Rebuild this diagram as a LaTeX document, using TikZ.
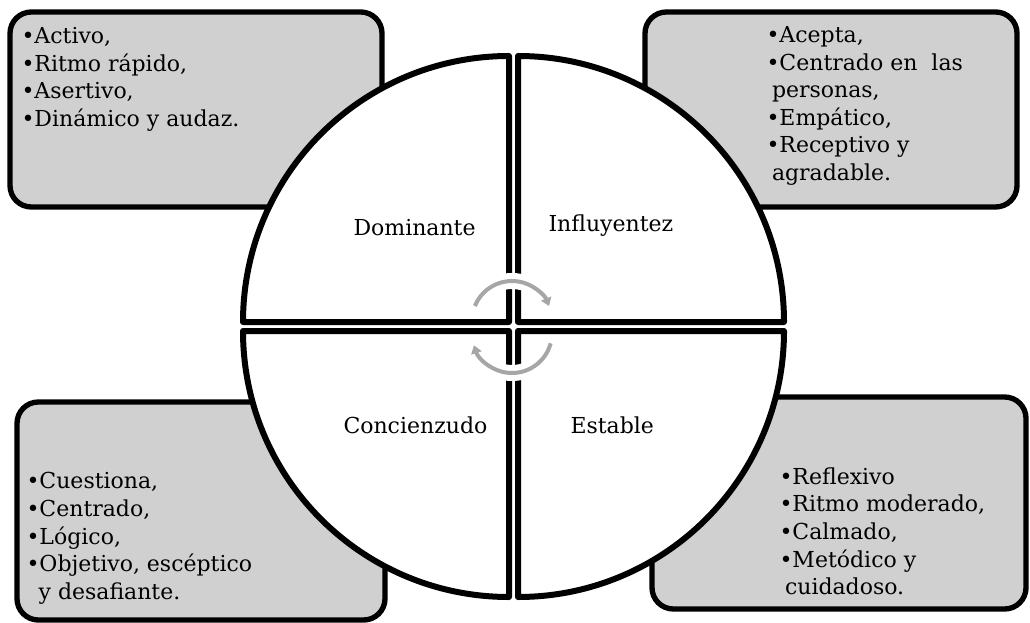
\documentclass[tikz,border=0pt]{standalone}
\usepackage{fontspec}
\setmainfont{DejaVu Serif}
\usetikzlibrary{arrows.meta}
\definecolor{boxgray}{RGB}{208,208,208}
\definecolor{arcgray}{RGB}{166,166,166}
\tikzset{every picture/.style={line width=0.75pt},
  traitbox/.style={draw=black, line width=4pt, fill=boxgray, rounded corners=16pt},
  quadrant/.style={draw=black, line width=4.5pt, fill=white, line join=round},
  traits/.style={anchor=north west, inner sep=0pt, align=left, font=\fontsize{16.5}{20.7}\selectfont},
  quadlabel/.style={anchor=base west, inner sep=0pt, font=\fontsize{16.5}{20.7}\selectfont},
  cyclehalo/.style={draw=white, line width=12pt},
  cyclearc/.style={draw=arcgray, line width=3pt},
}

\begin{document}
\begin{tikzpicture}[x=0.75pt,y=0.75pt,yscale=-1,xscale=1]
\useasboundingbox (0,0) rectangle (1030,623);

%Rounded Rect [top left]
\draw[traitbox] (10,12) rectangle (382,207);
%Rounded Rect [top right]
\draw[traitbox] (645,12) rectangle (1017,207);
%Rounded Rect [bottom left]
\draw[traitbox] (17,402) rectangle (385,620);
%Rounded Rect [bottom right]
\draw[traitbox] (652,397) rectangle (1026,609);

%Quadrants
\draw[quadrant] (509,322) -- (243,322) arc[start angle=180, end angle=270, radius=266] -- cycle;
\draw[quadrant] (518,322) -- (518,56) arc[start angle=270, end angle=360, radius=266] -- cycle;
\draw[quadrant] (518,331) -- (784,331) arc[start angle=0, end angle=90, radius=266] -- cycle;
\draw[quadrant] (509,331) -- (509,597) arc[start angle=90, end angle=180, radius=266] -- cycle;

%Cycle arrows
\coordinate (hubtop) at (512,321);
\coordinate (hubbot) at (512,333);
\draw[cyclehalo] ([shift={(202:40)}]hubtop) arc[start angle=202, end angle=336, radius=40];
\draw[cyclearc, -{Triangle[length=6pt,width=8pt]}] ([shift={(202:40)}]hubtop) arc[start angle=202, end angle=338, radius=40];
\draw[cyclehalo] ([shift={(15:40)}]hubbot) arc[start angle=15, end angle=160, radius=40];
\draw[cyclearc, -{Triangle[length=6pt,width=8pt]}] ([shift={(15:40)}]hubbot) arc[start angle=15, end angle=162, radius=40];

% Text Node
\node[quadlabel] (dom) at (353,236) {Dominante};
% Text Node
\node[quadlabel] (inf) at (548,232) {Influyentez};
% Text Node
\node[quadlabel] (con) at (343,433) {Concienzudo};
% Text Node
\node[quadlabel] (est) at (570,433) {Estable};

% Text Node
\node[traits] (domtraits) at (21,27) {•Activo,\\•Ritmo rápido,\\•Asertivo,\\•Dinámico y audaz.};
% Text Node
\node[traits] (inftraits) at (766,26) {•Acepta,\\•Centrado en\ \ las\\\hspace*{0.25em}personas,\\•Empático,\\•Receptivo y\\\hspace*{0.25em}agradable.};
% Text Node
\node[traits] (contraits) at (26,472) {•Cuestiona,\\•Centrado,\\•Lógico,\\•Objetivo, escéptico\\\hspace*{0.55em}y desafiante.};
% Text Node
\node[traits] (esttraits) at (779,467) {•Reflexivo\\•Ritmo moderado,\\•Calmado,\\•Metódico y\\\hspace*{0.25em}cuidadoso.};

\end{tikzpicture}
\end{document}
